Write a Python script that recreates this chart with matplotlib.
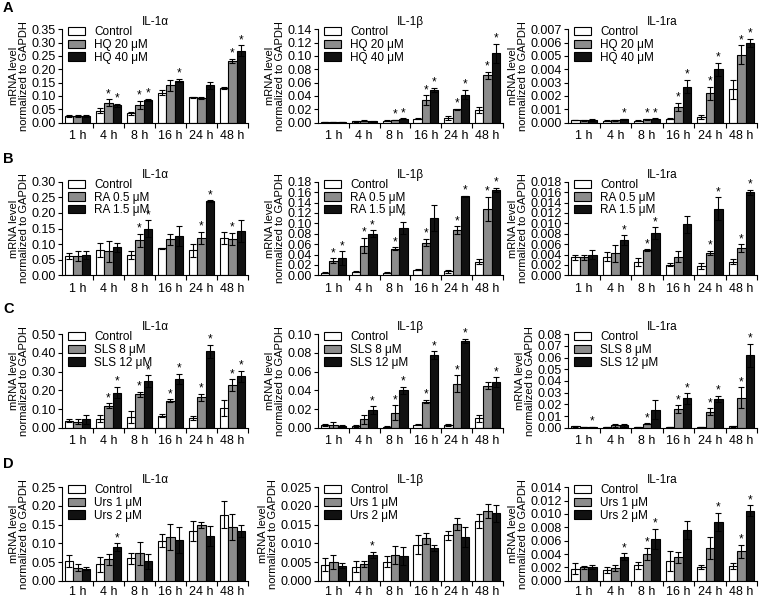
import matplotlib
matplotlib.use("Agg")
import matplotlib.pyplot as plt
import numpy as np

plt.rcParams['font.family'] = ['Liberation Sans', 'DejaVu Sans']

times = ['1 h', '4 h', '8 h', '16 h', '24 h', '48 h']
genes = ['IL-1\u03b1', 'IL-1\u03b2', 'IL-1ra']
row_letters = ['A', 'B', 'C', 'D']
row_legends = [
    ['Control', 'HQ 20 \u03bcM', 'HQ 40 \u03bcM'],
    ['Control', 'RA 0.5 \u03bcM', 'RA 1.5 \u03bcM'],
    ['Control', 'SLS 8 \u03bcM', 'SLS 12 \u03bcM'],
    ['Control', 'Urs 1 \u03bcM', 'Urs 2 \u03bcM'],
]

# ---- A: hydroquinone ----
hq_il1a = [[0.025, 0.045, 0.035, 0.112, 0.095, 0.130],
           [0.025, 0.075, 0.068, 0.140, 0.092, 0.232],
           [0.025, 0.065, 0.085, 0.158, 0.140, 0.270]]
hq_il1a_err = [[0.003, 0.010, 0.005, 0.010, 0.003, 0.004],
               [0.003, 0.012, 0.015, 0.020, 0.004, 0.008],
               [0.003, 0.005, 0.005, 0.007, 0.014, 0.020]]
hq_il1a_sig = [[0, 0, 0, 0, 0, 0], [0, 1, 1, 0, 0, 1], [0, 1, 1, 1, 0, 1]]

hq_il1b = [[0.001, 0.002, 0.003, 0.006, 0.007, 0.019],
           [0.001, 0.003, 0.004, 0.034, 0.020, 0.071],
           [0.001, 0.002, 0.006, 0.049, 0.042, 0.104]]
hq_il1b_err = [[0.0003, 0.0003, 0.0005, 0.0005, 0.003, 0.004],
               [0.0003, 0.0005, 0.0005, 0.007, 0.001, 0.005],
               [0.0003, 0.0003, 0.001, 0.003, 0.007, 0.014]]
hq_il1b_sig = [[0, 0, 0, 0, 0, 0], [0, 0, 1, 1, 1, 1], [0, 0, 1, 1, 1, 1]]

hq_il1ra = [[0.00020, 0.00015, 0.00015, 0.00030, 0.00040, 0.00250],
            [0.00018, 0.00018, 0.00025, 0.00120, 0.00220, 0.00510],
            [0.00020, 0.00025, 0.00030, 0.00270, 0.00400, 0.00600]]
hq_il1ra_err = [[0.00002, 0.00002, 0.00002, 0.00005, 0.00015, 0.00070],
                [0.00002, 0.00002, 0.00003, 0.00030, 0.00050, 0.00070],
                [0.00005, 0.00003, 0.00003, 0.00050, 0.00050, 0.00030]]
hq_il1ra_sig = [[0, 0, 0, 0, 0, 0], [0, 0, 1, 1, 1, 1], [0, 1, 1, 1, 1, 1]]

# ---- B: retinoic acid ----
ra_il1a = [[0.062, 0.082, 0.065, 0.086, 0.080, 0.120],
           [0.062, 0.077, 0.112, 0.115, 0.120, 0.117],
           [0.065, 0.090, 0.150, 0.125, 0.238, 0.143]]
ra_il1a_err = [[0.010, 0.022, 0.013, 0.003, 0.022, 0.020],
               [0.015, 0.033, 0.022, 0.017, 0.020, 0.020],
               [0.012, 0.015, 0.027, 0.032, 0.003, 0.035]]
ra_il1a_sig = [[0, 0, 0, 0, 0, 0], [0, 0, 1, 0, 1, 1], [0, 0, 1, 0, 1, 0]]

ra_il1b = [[0.005, 0.007, 0.005, 0.011, 0.008, 0.026],
           [0.028, 0.057, 0.051, 0.063, 0.087, 0.128],
           [0.033, 0.080, 0.091, 0.110, 0.152, 0.165]]
ra_il1b_err = [[0.001, 0.001, 0.001, 0.001, 0.003, 0.005],
               [0.005, 0.015, 0.003, 0.007, 0.007, 0.023],
               [0.013, 0.007, 0.012, 0.025, 0.001, 0.004]]
ra_il1b_sig = [[0, 0, 0, 0, 0, 0], [1, 1, 1, 1, 1, 1], [1, 1, 1, 0, 1, 1]]

ra_il1ra = [[0.0035, 0.0036, 0.0025, 0.0020, 0.0018, 0.0026],
            [0.0035, 0.0042, 0.0048, 0.0036, 0.0043, 0.0052],
            [0.0040, 0.0068, 0.0081, 0.0098, 0.0128, 0.0160]]
ra_il1ra_err = [[0.0005, 0.0008, 0.0008, 0.0003, 0.0006, 0.0005],
                [0.0005, 0.0016, 0.0002, 0.0010, 0.0004, 0.0008],
                [0.0009, 0.0009, 0.0012, 0.0017, 0.0022, 0.0005]]
ra_il1ra_sig = [[0, 0, 0, 0, 0, 0], [0, 0, 1, 0, 1, 1], [0, 1, 1, 0, 1, 1]]

# ---- C: sodium lauryl sulfate ----
sls_il1a = [[0.037, 0.048, 0.058, 0.065, 0.050, 0.105],
            [0.032, 0.118, 0.178, 0.145, 0.163, 0.228],
            [0.045, 0.188, 0.250, 0.260, 0.408, 0.275]]
sls_il1a_err = [[0.007, 0.020, 0.032, 0.010, 0.010, 0.045],
                [0.012, 0.012, 0.015, 0.008, 0.018, 0.030],
                [0.025, 0.030, 0.030, 0.028, 0.035, 0.030]]
sls_il1a_sig = [[0, 0, 0, 0, 0, 0], [0, 1, 1, 1, 1, 1], [0, 1, 1, 1, 1, 1]]

sls_il1b = [[0.003, 0.002, 0.001, 0.003, 0.003, 0.010],
            [0.003, 0.009, 0.016, 0.028, 0.047, 0.045],
            [0.002, 0.019, 0.040, 0.078, 0.093, 0.049]]
sls_il1b_err = [[0.001, 0.001, 0.0003, 0.0005, 0.001, 0.004],
                [0.003, 0.005, 0.008, 0.002, 0.009, 0.004],
                [0.001, 0.004, 0.004, 0.004, 0.002, 0.005]]
sls_il1b_sig = [[0, 0, 0, 0, 0, 0], [0, 0, 1, 1, 1, 0], [0, 1, 1, 1, 1, 1]]

sls_il1ra = [[0.0012, 0.0008, 0.0008, 0.0008, 0.0005, 0.0012],
             [0.0008, 0.0020, 0.0035, 0.0158, 0.0135, 0.0255],
             [0.0005, 0.0020, 0.0155, 0.0250, 0.0248, 0.0620]]
sls_il1ra_err = [[0.0002, 0.0002, 0.0002, 0.0002, 0.0001, 0.0002],
                 [0.0002, 0.0012, 0.0005, 0.0035, 0.0030, 0.0090],
                 [0.0001, 0.0015, 0.0080, 0.0045, 0.0025, 0.0100]]
sls_il1ra_sig = [[0, 0, 0, 0, 0, 0], [0, 0, 1, 1, 1, 1], [1, 0, 0, 1, 1, 1]]

# ---- D: ursolic acid ----
urs_il1a = [[0.052, 0.044, 0.060, 0.107, 0.133, 0.177],
            [0.035, 0.057, 0.073, 0.118, 0.150, 0.143],
            [0.032, 0.090, 0.052, 0.110, 0.120, 0.133]]
urs_il1a_err = [[0.016, 0.020, 0.015, 0.017, 0.028, 0.035],
                [0.010, 0.015, 0.030, 0.035, 0.008, 0.035],
                [0.004, 0.010, 0.020, 0.035, 0.027, 0.015]]
urs_il1a_sig = [[0, 0, 0, 0, 0, 0], [0, 0, 0, 0, 0, 0], [0, 1, 0, 0, 0, 0]]

urs_il1b = [[0.0043, 0.0038, 0.0051, 0.0096, 0.0122, 0.0159],
            [0.0050, 0.0046, 0.0070, 0.0113, 0.0152, 0.0187],
            [0.0040, 0.0069, 0.0065, 0.0088, 0.0118, 0.0180]]
urs_il1b_err = [[0.0017, 0.0016, 0.0014, 0.0025, 0.0012, 0.0019],
                [0.0020, 0.0008, 0.0024, 0.0015, 0.0015, 0.0018],
                [0.0007, 0.0009, 0.0024, 0.0008, 0.0027, 0.0022]]
urs_il1b_sig = [[0, 0, 0, 0, 0, 0], [0, 0, 0, 0, 0, 0], [0, 1, 0, 0, 0, 0]]

urs_il1ra = [[0.0018, 0.0016, 0.0023, 0.0030, 0.0021, 0.0022],
             [0.0020, 0.0019, 0.0040, 0.0035, 0.0049, 0.0044],
             [0.0020, 0.0036, 0.0063, 0.0076, 0.0088, 0.0105]]
urs_il1ra_err = [[0.0008, 0.0005, 0.0005, 0.0015, 0.0003, 0.0005],
                 [0.0002, 0.0005, 0.0009, 0.0008, 0.0016, 0.0010],
                 [0.0003, 0.0005, 0.0015, 0.0014, 0.0014, 0.0008]]
urs_il1ra_sig = [[0, 0, 0, 0, 0, 0], [0, 0, 1, 0, 0, 1], [0, 1, 1, 0, 1, 1]]

# y-axis: (max, step, decimals) for each panel
hq_axes = [(0.35, 0.05, 2), (0.14, 0.02, 2), (0.007, 0.001, 3)]
ra_axes = [(0.30, 0.05, 2), (0.18, 0.02, 2), (0.018, 0.002, 3)]
sls_axes = [(0.50, 0.10, 2), (0.10, 0.02, 2), (0.08, 0.01, 2)]
urs_axes = [(0.25, 0.05, 2), (0.025, 0.005, 3), (0.014, 0.002, 3)]

rows = [
    [(hq_il1a, hq_il1a_err, hq_il1a_sig), (hq_il1b, hq_il1b_err, hq_il1b_sig), (hq_il1ra, hq_il1ra_err, hq_il1ra_sig)],
    [(ra_il1a, ra_il1a_err, ra_il1a_sig), (ra_il1b, ra_il1b_err, ra_il1b_sig), (ra_il1ra, ra_il1ra_err, ra_il1ra_sig)],
    [(sls_il1a, sls_il1a_err, sls_il1a_sig), (sls_il1b, sls_il1b_err, sls_il1b_sig), (sls_il1ra, sls_il1ra_err, sls_il1ra_sig)],
    [(urs_il1a, urs_il1a_err, urs_il1a_sig), (urs_il1b, urs_il1b_err, urs_il1b_sig), (urs_il1ra, urs_il1ra_err, urs_il1ra_sig)],
]
row_axes = [hq_axes, ra_axes, sls_axes, urs_axes]

bar_colors = ['white', '#8c8c8c', '#111111']
col_left = [0.0816, 0.4184, 0.7474]
col_width = [0.2447, 0.2434, 0.2487]
row_bottom = [0.7945, 0.5389, 0.2836, 0.0273]
ax_height = 0.1565
fig_top = [1, 152, 302, 457]   # pixel top of panel letters
xlabel_pad = [5.5, 5.5, 5.5, 3.5]


def draw_panel(ax, means, errs, sigs, ymax, step, dec, title, labels, xpad):
    x = np.arange(len(times))
    w = 0.27
    for i in range(3):
        pos = x + (i - 1) * w
        ax.bar(pos, means[i], width=w, color=bar_colors[i], edgecolor='black',
               linewidth=0.8, label=labels[i], zorder=2)
        ax.errorbar(pos, means[i], yerr=errs[i], fmt='none', ecolor='black',
                    elinewidth=0.8, capsize=2.4, capthick=0.8, zorder=3)
        for j in range(len(times)):
            if sigs[i][j]:
                ax.text(pos[j], means[i][j] + errs[i][j] - ymax * 0.01, '*',
                        ha='center', va='bottom', fontsize=8.5)
    ax.set_xlim(-0.5, len(times) - 0.5)
    ax.set_ylim(0, ymax)
    ticks = np.arange(0, ymax + step / 2, step)
    ax.set_yticks(ticks)
    ax.set_yticklabels([f'{t:.{dec}f}' for t in ticks])
    ax.set_xticks(x)
    ax.set_xticklabels(times)
    ax.set_xticks(np.arange(0.5, len(times), 1.0), minor=True)
    ax.tick_params(axis='x', which='major', length=0, pad=xpad, labelsize=9)
    ax.tick_params(axis='x', which='minor', length=3.5, width=0.8, direction='out')
    ax.tick_params(axis='y', length=3, width=0.8, pad=1.5, labelsize=9)
    for s in ['top', 'right']:
        ax.spines[s].set_visible(False)
    for s in ['left', 'bottom']:
        ax.spines[s].set_linewidth(0.8)
    ax.set_title(title, fontsize=8.5, pad=3)
    ax.set_ylabel('mRNA level\nnormalized to GAPDH', fontsize=8, labelpad=2,
                  linespacing=1.0)
    ax.legend(loc='upper left', bbox_to_anchor=(0.03, 1.03), frameon=False,
              fontsize=8.5, handlelength=1.5, handleheight=0.68,
              handletextpad=0.75, labelspacing=0.05, borderaxespad=0,
              borderpad=0)


fig = plt.figure(figsize=(7.6, 5.97), dpi=100)
for r in range(4):
    for c in range(3):
        ax = fig.add_axes([col_left[c], row_bottom[r], col_width[c], ax_height])
        means, errs, sigs = rows[r][c]
        ymax, step, dec = row_axes[r][c]
        draw_panel(ax, means, errs, sigs, ymax, step, dec, genes[c],
                   row_legends[r], xlabel_pad[r])
    fig.text(0.004, 1 - fig_top[r] / 597, row_letters[r], fontsize=10.5,
             fontweight='bold', va='top', ha='left')

fig.savefig('out.png', dpi=100)
plt.close()
